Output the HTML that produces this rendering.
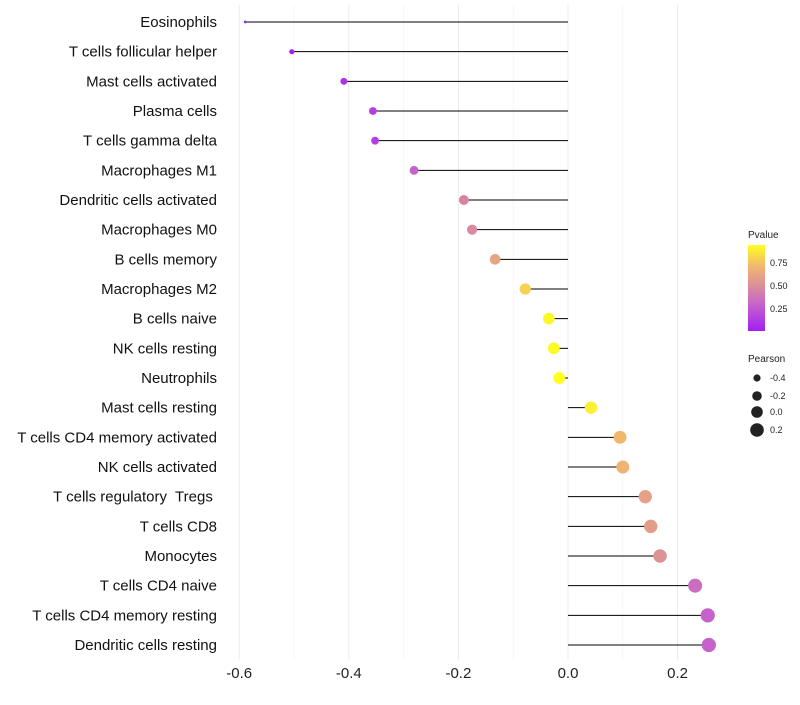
<!DOCTYPE html>
<html><head><meta charset="utf-8"><style>
body{margin:0;background:#fff;font-family:"Liberation Sans",sans-serif}
#labels text{white-space:pre}
</style></head><body>
<svg id="c" width="800" height="700" xmlns="http://www.w3.org/2000/svg">
<defs><linearGradient id="pg" x1="0" y1="1" x2="0" y2="0">
<stop offset="0" stop-color="#a21ff0"/><stop offset="0.33" stop-color="#c867c8"/><stop offset="0.5" stop-color="#d98a9e"/><stop offset="0.75" stop-color="#f0b670"/><stop offset="1" stop-color="#ffff20"/></linearGradient></defs>
<g id="grid"></g><g id="marks"></g><g id="labels" xml:space="preserve"></g>
<g font-size="9" fill="#222">
<text x="748" y="238" font-size="10">Pvalue</text>
<rect x="748" y="245" width="17" height="86" fill="url(#pg)"/>
<text x="770" y="266">0.75</text><text x="770" y="289">0.50</text><text x="770" y="312">0.25</text>
</g>
<g font-size="9" fill="#222">
<text x="748" y="362" font-size="10">Pearson</text>
<circle cx="757" cy="378" r="3.6"/><text x="770" y="381">-0.4</text>
<circle cx="757" cy="396" r="4.8"/><text x="770" y="399">-0.2</text>
<circle cx="757" cy="412" r="5.8"/><text x="770" y="415">0.0</text>
<circle cx="757" cy="430" r="6.8"/><text x="770" y="433">0.2</text>
</g>
</svg>
<script>
const categories=["Eosinophils","T cells follicular helper","Mast cells activated","Plasma cells","T cells gamma delta","Macrophages M1","Dendritic cells activated","Macrophages M0","B cells memory","Macrophages M2","B cells naive","NK cells resting","Neutrophils","Mast cells resting","T cells CD4 memory activated","NK cells activated","T cells regulatory  Tregs ","T cells CD8","Monocytes","T cells CD4 naive","T cells CD4 memory resting","Dendritic cells resting"];
const pearson=[-0.589,-0.504,-0.409,-0.356,-0.352,-0.281,-0.190,-0.175,-0.133,-0.078,-0.035,-0.026,-0.016,0.042,0.095,0.100,0.141,0.151,0.168,0.232,0.255,0.257];
const pvalues=[0.01,0.03,0.1,0.15,0.15,0.3,0.45,0.48,0.62,0.8,0.92,0.93,0.96,0.9,0.72,0.7,0.6,0.58,0.52,0.35,0.3,0.3];
const xTicks=[-0.6,-0.4,-0.2,0.0,0.2];
const xTickLabels=["-0.6","-0.4","-0.2","0.0","0.2"];
const minorTicks=[-0.5,-0.3,-0.1,0.1];
const NS="http://www.w3.org/2000/svg";
const x=v=>568+v*548;
const y=i=>22+i*29.667;
const rad=v=>Math.sqrt(Math.max(1.5,36+58*v));
const stops=[[0,[162,31,240]],[0.33,[200,103,200]],[0.5,[217,138,158]],[0.75,[240,182,112]],[1,[255,255,32]]];
function col(p){const t=Math.min(1,Math.max(0,(p-0.011)/0.935));for(let k=1;k<stops.length;k++){if(t<=stops[k][0]){const a=stops[k-1],b=stops[k],f=(t-a[0])/(b[0]-a[0]);return "rgb("+a[1].map((c,j)=>Math.round(c+(b[1][j]-c)*f)).join(",")+")";}}return "rgb(255,255,32)";}
function mk(tag,at,par){const e=document.createElementNS(NS,tag);for(const k in at)e.setAttribute(k,at[k]);document.getElementById(par).appendChild(e);return e;}
minorTicks.forEach(v=>{const l=mk("line",{x1:x(v),x2:x(v),y1:5,y2:660,stroke:"#f2f2f2","stroke-width":0.6},"grid");

});
xTicks.forEach((v,i)=>{const l=mk("line",{x1:x(v),x2:x(v),y1:5,y2:660,stroke:"#ebebeb","stroke-width":1},"grid");


const t=mk("text",{x:x(v),y:678,"text-anchor":"middle","font-size":15,fill:"#222"},"labels");t.textContent=xTickLabels[i];

});
categories.forEach((c,i)=>{
const l=mk("line",{x1:x(0),x2:x(pearson[i]),y1:y(i),y2:y(i),stroke:"#000","stroke-width":1},"marks");


const p=mk("circle",{cx:x(pearson[i]),cy:y(i),r:rad(pearson[i]),fill:col(pvalues[i])},"marks");


const t=mk("text",{x:217,y:y(i)+5,"text-anchor":"end","font-size":15,fill:"#111"},"labels");t.textContent=c;

});
</script>
</body></html>
